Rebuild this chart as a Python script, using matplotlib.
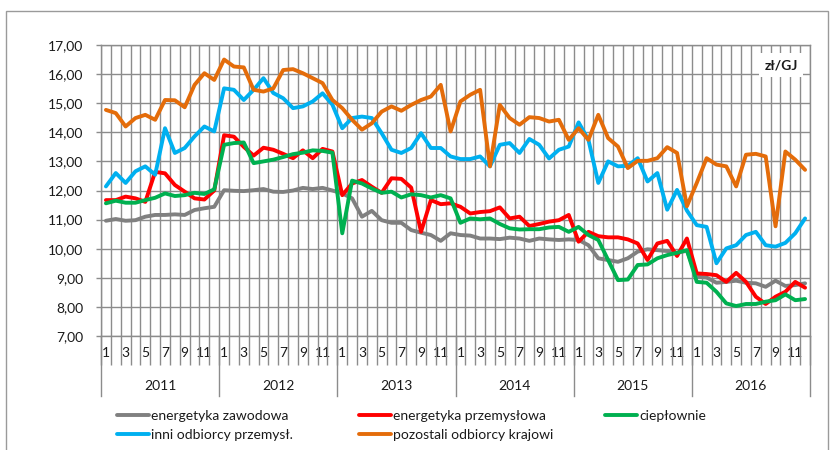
import matplotlib
matplotlib.use("Agg")
import matplotlib.pyplot as plt
import numpy as np
from matplotlib.patches import Rectangle
from matplotlib.lines import Line2D

plt.rcParams['font.family'] = ['Lato', 'DejaVu Sans']

years = ['2011', '2012', '2013', '2014', '2015', '2016']
month_labels = ['1', '', '3', '', '5', '', '7', '', '9', '', '11', '']
unit_label = 'zł/GJ'

series_names = ['energetyka zawodowa', 'energetyka przemysłowa', 'ciepłownie',
                'inni odbiorcy przemysł.', 'pozostali odbiorcy krajowi']

energetyka_zawodowa = [
    10.96, 11.02, 10.96, 10.98, 11.10, 11.16, 11.16, 11.18, 11.16, 11.33, 11.39, 11.44,
    12.01, 11.99, 11.98, 12.01, 12.05, 11.96, 11.95, 12.00, 12.09, 12.05, 12.09, 12.00,
    11.90, 11.73, 11.10, 11.30, 10.98, 10.89, 10.89, 10.64, 10.55, 10.47, 10.27, 10.53,
    10.47, 10.45, 10.35, 10.35, 10.33, 10.38, 10.35, 10.27, 10.35, 10.32, 10.30, 10.32,
    10.30, 10.12, 9.67, 9.61, 9.55, 9.67, 9.90, 9.98, 9.95, 9.92, 9.86, 9.93,
    9.04, 9.01, 8.83, 8.86, 8.90, 8.83, 8.81, 8.69, 8.90, 8.72, 8.75, 8.81]

energetyka_przemyslowa = [
    11.67, 11.67, 11.79, 11.73, 11.61, 12.64, 12.59, 12.19, 11.96, 11.73, 11.69, 12.00,
    13.90, 13.85, 13.50, 13.20, 13.47, 13.40, 13.26, 13.11, 13.38, 13.11, 13.43, 13.34,
    11.84, 12.24, 12.36, 12.13, 11.92, 12.42, 12.40, 12.10, 10.58, 11.67, 11.53, 11.56,
    11.44, 11.21, 11.26, 11.29, 11.42, 11.04, 11.10, 10.78, 10.85, 10.93, 10.98, 11.16,
    10.24, 10.58, 10.43, 10.39, 10.39, 10.32, 10.18, 9.61, 10.18, 10.27, 9.75, 10.35,
    9.15, 9.13, 9.09, 8.86, 9.17, 8.86, 8.35, 8.10, 8.35, 8.52, 8.86, 8.66]

cieplownie = [
    11.56, 11.65, 11.58, 11.58, 11.67, 11.75, 11.90, 11.81, 11.84, 11.92, 11.88, 12.04,
    13.57, 13.63, 13.65, 12.94, 13.00, 13.06, 13.15, 13.25, 13.30, 13.38, 13.36, 13.30,
    10.53, 12.34, 12.24, 12.07, 11.92, 11.96, 11.76, 11.87, 11.84, 11.76, 11.84, 11.73,
    10.89, 11.04, 11.01, 11.04, 10.85, 10.70, 10.66, 10.67, 10.67, 10.73, 10.75, 10.58,
    10.75, 10.47, 10.30, 9.61, 8.92, 8.94, 9.44, 9.46, 9.67, 9.78, 9.86, 9.95,
    8.86, 8.83, 8.52, 8.12, 8.03, 8.10, 8.10, 8.18, 8.23, 8.43, 8.23, 8.27]

inni_odbiorcy = [
    12.14, 12.60, 12.26, 12.66, 12.83, 12.54, 14.14, 13.29, 13.46, 13.86, 14.20, 14.03,
    15.51, 15.46, 15.11, 15.46, 15.86, 15.35, 15.17, 14.83, 14.89, 15.06, 15.34, 14.95,
    14.14, 14.49, 14.54, 14.49, 13.97, 13.40, 13.29, 13.46, 13.97, 13.46, 13.46, 13.17,
    13.08, 13.08, 13.17, 12.83, 13.57, 13.63, 13.29, 13.77, 13.57, 13.10, 13.40, 13.51,
    14.34, 13.74, 12.26, 13.00, 12.83, 12.85, 13.11, 12.31, 12.60, 11.34, 12.02, 11.31,
    10.81, 10.75, 9.50, 10.01, 10.12, 10.47, 10.58, 10.12, 10.07, 10.20, 10.53, 11.04]

pozostali_odbiorcy = [
    14.77, 14.66, 14.20, 14.49, 14.60, 14.43, 15.11, 15.10, 14.86, 15.63, 16.03, 15.80,
    16.50, 16.26, 16.23, 15.46, 15.40, 15.51, 16.14, 16.17, 16.03, 15.86, 15.69, 15.11,
    14.83, 14.43, 14.09, 14.31, 14.71, 14.89, 14.74, 14.94, 15.11, 15.23, 15.63, 14.03,
    15.06, 15.29, 15.46, 12.83, 14.94, 14.49, 14.26, 14.52, 14.49, 14.37, 14.43, 13.74,
    14.14, 13.74, 14.60, 13.80, 13.51, 12.77, 13.02, 13.02, 13.11, 13.49, 13.29, 11.46,
    12.26, 13.11, 12.89, 12.83, 12.14, 13.23, 13.26, 13.17, 10.77, 13.34, 13.06, 12.71]

series = [energetyka_zawodowa, energetyka_przemyslowa, cieplownie, inni_odbiorcy, pozostali_odbiorcy]
colors = ['#808080', '#FF0000', '#00B050', '#00B0F0', '#E46C0A']

W, H = 835, 450
fig = plt.figure(figsize=(W / 100, H / 100), dpi=100)
L, R, T, B = 101, 810, 45, 336
ax = fig.add_axes([L / W, 1 - B / H, (R - L) / W, (B - T) / H])

n = len(energetyka_zawodowa)
x = np.arange(n)
grid_c = '#8C8C8C'
handles = []
for vals, c, name in zip(series, colors, series_names):
    h, = ax.plot(x, vals, color=c, lw=2.8, solid_joinstyle='round', solid_capstyle='round', label=name, zorder=3)
    handles.append(h)

ax.set_xlim(-0.5, n - 0.5)
ax.set_ylim(7, 17)
ax.set_yticks(np.arange(7, 18, 1))
ax.set_yticklabels([f'{v:.2f}'.replace('.', ',') for v in np.arange(7, 18, 1)])
ax.tick_params(axis='y', length=3.6, width=1, color=grid_c, pad=9, labelsize=10, labelcolor='#1a1a1a')

# month labels at category centers
ax.set_xticks(x)
ax.set_xticklabels(month_labels * len(years))
ax.tick_params(axis='x', which='major', length=0, pad=8, labelsize=10, labelcolor='#1a1a1a')
# separators at category boundaries
ax.set_xticks(np.arange(-0.5, n, 1), minor=True)
ax.tick_params(axis='x', which='minor', length=21, width=1, color=grid_c)

ax.grid(False)
for b in np.arange(-0.5, n, 1):
    ax.axvline(b, color=grid_c, lw=1.0, zorder=1)
for v in np.arange(7, 18, 1):
    ax.axhline(v, color=grid_c, lw=1.0, zorder=1)
for s in ax.spines.values():
    s.set_color(grid_c)
    s.set_linewidth(1.0)

# year separators and labels
ph = (B - T)
xt = ax.get_xaxis_transform()
for k, yr in enumerate(years):
    ax.plot([k * 12 - 0.5, k * 12 - 0.5], [0, -60 / ph], color=grid_c, lw=1, transform=xt, clip_on=False)
    ax.text(k * 12 + 5.5, -50 / ph, yr, transform=xt, ha='center', va='center', fontsize=10, color='#1a1a1a')
ax.plot([n - 0.5, n - 0.5], [0, -60 / ph], color=grid_c, lw=1, transform=xt, clip_on=False)

# unit box
ax.text((781 - L) / (R - L), (B - 65) / ph, unit_label, transform=ax.transAxes, ha='center', va='center',
        fontsize=10, fontweight='bold', color='#1a1a1a', zorder=5,
        bbox=dict(facecolor='white', edgecolor='none', pad=4))

# legends in three columns
cols = [[0, 3], [1, 4], [2]]
xs = [117, 359, 605]
for idxs, xl in zip(cols, xs):
    lg = fig.legend([handles[i] for i in idxs], [series_names[i] for i in idxs],
                    loc='upper left', bbox_to_anchor=(xl / W, 1 - 410 / H), frameon=False,
                    fontsize=10, handlelength=2.3, handletextpad=0.15, labelspacing=0.5,
                    borderpad=0, borderaxespad=0)
    for t in lg.get_texts():
        t.set_color('#1a1a1a')

# outer border
fig.add_artist(Rectangle((6 / W, -0.1), (828 - 6) / W, 1.1 - 11 / H, transform=fig.transFigure,
                         fill=False, edgecolor='#9A9A9A', lw=1, clip_on=False))

fig.savefig('out.png', dpi=100)
